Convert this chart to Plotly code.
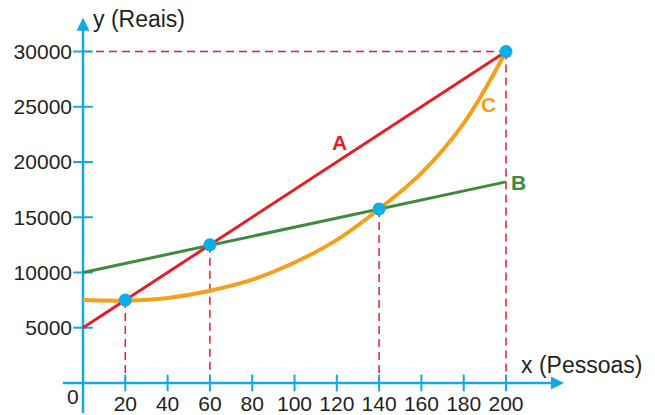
import plotly.graph_objects as go

# ---- data ----
x_tick_vals = [20, 40, 60, 80, 100, 120, 140, 160, 180, 200]
x_tick_text = [str(v) for v in x_tick_vals]
y_tick_vals = [5000, 10000, 15000, 20000, 25000, 30000]
y_tick_text = [str(v) for v in y_tick_vals]

a_x = [0, 200]
a_y = [5000, 30000]
b_x = [0, 200]
b_y = [10000, 18200]
c_x = [0, 20, 40, 60, 80, 100, 120, 140, 160, 180, 200]
c_y = [7500, 7450, 7700, 8350, 9350, 10900, 12950, 15750, 19000, 23500, 30000]

pts_x = [20, 60, 140, 200]
pts_y = [7500, 12500, 15750, 30000]

# ---- styles ----
CYAN = "#13A9E4"
DOT = "#0AAEEA"
RED = "#E41F26"
GREEN = "#3E8B3E"
ORANGE = "#F5A01A"
TXT = "#231F20"
FONT = "Liberation Sans, Arial, sans-serif"

W, H = 655, 415
X0PX, XSCALE = 83.0, 2.115       # pixel of x=0, px per unit
Y0PX, YSCALE = 384.8, 55.5 / 5000  # pixel of y=0, px per unit

xr = [-X0PX / XSCALE, (W - X0PX) / XSCALE]
yr = [-(H - Y0PX) / YSCALE, Y0PX / YSCALE]

fig = go.Figure()

# guide dashed lines built from intersection points
gx, gy = [], []
for xv, yv in zip(pts_x, pts_y):
    gx += [xv, xv, None]
    gy += [yv, 0, None]
gx += [0, pts_x[-1], None]
gy += [pts_y[-1], pts_y[-1], None]
fig.add_trace(go.Scatter(x=gx, y=gy, mode="lines",
                         line=dict(color=RED, width=1.5, dash="8px,5px"),
                         hoverinfo="skip", showlegend=False))

# axes lines (decoration)
fig.add_trace(go.Scatter(x=[0, 0], y=[yr[0], 31950], mode="lines",
                         line=dict(color=CYAN, width=2.5), hoverinfo="skip", showlegend=False))
fig.add_trace(go.Scatter(x=[-9.5, 222], y=[0, 0], mode="lines",
                         line=dict(color=CYAN, width=2.5), hoverinfo="skip", showlegend=False))
# arrow heads
fig.add_trace(go.Scatter(x=[0], y=[33050], mode="markers",
                         marker=dict(symbol="arrow-up", size=13, color=CYAN, line=dict(width=0)),
                         hoverinfo="skip", showlegend=False))
fig.add_trace(go.Scatter(x=[227.4], y=[0], mode="markers",
                         marker=dict(symbol="arrow-right", size=13, color=CYAN, line=dict(width=0)),
                         hoverinfo="skip", showlegend=False))
# tick marks crossing the axes
fig.add_trace(go.Scatter(x=x_tick_vals, y=[0] * len(x_tick_vals), mode="markers",
                         marker=dict(symbol="line-ns", size=12, line=dict(color=CYAN, width=2)),
                         hoverinfo="skip", showlegend=False))
fig.add_trace(go.Scatter(x=[0] * len(y_tick_vals), y=y_tick_vals, mode="markers",
                         marker=dict(symbol="line-ew", size=14, line=dict(color=CYAN, width=2)),
                         hoverinfo="skip", showlegend=False))

# series
fig.add_trace(go.Scatter(x=b_x, y=b_y, mode="lines", line=dict(color=GREEN, width=3),
                         name="B", showlegend=False))
fig.add_trace(go.Scatter(x=c_x, y=c_y, mode="lines", line=dict(color=ORANGE, width=4, shape="spline", smoothing=1),
                         name="C", showlegend=False))
fig.add_trace(go.Scatter(x=a_x, y=a_y, mode="lines", line=dict(color=RED, width=3),
                         name="A", showlegend=False))
fig.add_trace(go.Scatter(x=pts_x, y=pts_y, mode="markers",
                         marker=dict(color=DOT, size=13, line=dict(width=0)),
                         showlegend=False))

# series labels
for t, xv, yv, col in [("A", 121.5, 21800, RED), ("B", 205.8, 18150, GREEN), ("C", 191.6, 25200, ORANGE)]:
    fig.add_annotation(x=xv, y=yv, text="<b>%s</b>" % t, showarrow=False,
                       font=dict(family=FONT, size=21, color=col), xanchor="center", yanchor="middle")

# axis titles and origin
fig.add_annotation(x=0, y=32950, text="y (Reais)", showarrow=False, xanchor="left", yanchor="middle",
                   xshift=8, font=dict(family=FONT, size=23, color=TXT))
fig.add_annotation(x=206, y=1600, text="x (Pessoas)", showarrow=False, xanchor="left", yanchor="middle",
                   font=dict(family=FONT, size=23, color=TXT))
fig.add_annotation(x=0, y=0, text="0", showarrow=False, xanchor="right", yanchor="top",
                   xshift=-2, yshift=0, font=dict(family=FONT, size=21, color=TXT))

fig.update_layout(
    width=W, height=H, autosize=False,
    margin=dict(l=0, r=0, t=0, b=0),
    paper_bgcolor="white", plot_bgcolor="white",
    xaxis=dict(range=xr, showgrid=False, zeroline=False, showline=False, ticks="",
               tickvals=x_tick_vals, ticktext=x_tick_text, anchor="free",
               position=(H - Y0PX) / H, ticklabelstandoff=6,
               tickfont=dict(family=FONT, size=21, color=TXT), fixedrange=True),
    yaxis=dict(range=yr, showgrid=False, zeroline=False, showline=False, ticks="",
               tickvals=y_tick_vals, ticktext=y_tick_text, anchor="free",
               position=X0PX / W, ticklabelstandoff=11,
               tickfont=dict(family=FONT, size=21, color=TXT), fixedrange=True),
)

fig.write_html("out.html", config={"displayModeBar": False},
               post_script="document.body.style.margin='0px';document.body.style.overflow='hidden';")
